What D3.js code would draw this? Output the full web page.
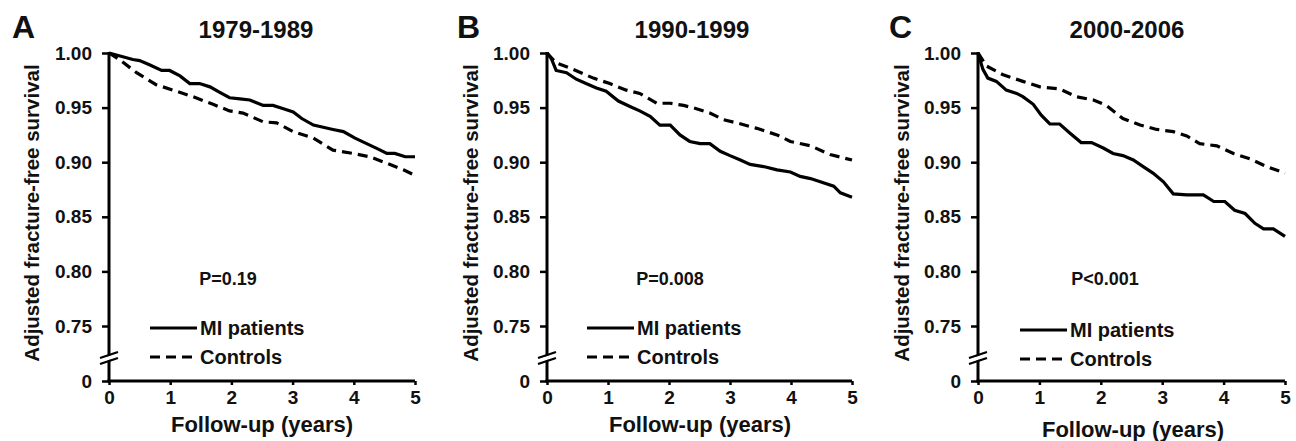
<!DOCTYPE html>
<html>
<head>
<meta charset="utf-8">
<script src="https://cdn.jsdelivr.net/npm/d3@7"></script>
<style>
  html, body { margin: 0; padding: 0; background: #fff; }
  svg { display: block; }
  text { font-family: "Liberation Sans", Arial, sans-serif; font-weight: bold; fill: #111; }
</style>
</head>
<body>
<svg id="chart" width="1296" height="441"></svg>
<script>
// ---------- data ----------
const panelLetters = ["A", "B", "C"];
const panelTitles = ["1979-1989", "1990-1999", "2000-2006"];
const pValues = ["P=0.19", "P=0.008", "P<0.001"];
const seriesNames = ["MI patients", "Controls"];
const xTicks = [0, 1, 2, 3, 4, 5];
const yTicks = [0, 0.75, 0.80, 0.85, 0.90, 0.95, 1.00];
const xLabel = "Follow-up (years)";
const yLabel = "Adjusted fracture-free survival";

// Panel A (1979-1989)
const aMiT = [0, 0.39, 0.5, 0.67, 0.86, 0.99, 1.16, 1.32, 1.48, 1.65, 1.81, 1.97, 2.14, 2.3, 2.52, 2.68, 2.85, 3.01, 3.15, 3.34, 3.5, 3.66, 3.83, 4.02, 4.21, 4.4, 4.54, 4.67, 4.84, 5];
const aMiS = [1.0, 0.994, 0.993, 0.989, 0.984, 0.984, 0.979, 0.972, 0.972, 0.969, 0.964, 0.959, 0.958, 0.957, 0.952, 0.952, 0.949, 0.946, 0.940, 0.934, 0.932, 0.930, 0.928, 0.922, 0.917, 0.912, 0.908, 0.908, 0.905, 0.905];
const aCtT = [0, 0.17, 0.45, 0.77, 1.1, 1.37, 1.7, 1.97, 2.19, 2.52, 2.74, 3.01, 3.34, 3.66, 3.99, 4.26, 4.54, 4.81, 5];
const aCtS = [1.0, 0.994, 0.982, 0.971, 0.965, 0.960, 0.953, 0.947, 0.945, 0.937, 0.936, 0.928, 0.922, 0.911, 0.908, 0.905, 0.899, 0.893, 0.888];

// Panel B (1990-1999)
const bMiT = [0, 0.07, 0.15, 0.32, 0.48, 0.64, 0.81, 0.97, 1.17, 1.36, 1.52, 1.69, 1.85, 2.02, 2.18, 2.34, 2.51, 2.67, 2.84, 3.0, 3.17, 3.33, 3.55, 3.77, 3.99, 4.15, 4.32, 4.48, 4.7, 4.81, 5];
const bMiS = [1.0, 0.995, 0.984, 0.982, 0.976, 0.972, 0.968, 0.965, 0.956, 0.951, 0.947, 0.942, 0.934, 0.934, 0.925, 0.919, 0.917, 0.917, 0.910, 0.906, 0.902, 0.898, 0.896, 0.893, 0.891, 0.887, 0.885, 0.882, 0.878, 0.872, 0.868];
const bCtT = [0, 0.15, 0.43, 0.76, 1.03, 1.3, 1.52, 1.8, 2.02, 2.24, 2.45, 2.67, 2.89, 3.11, 3.44, 3.77, 3.99, 4.32, 4.64, 5];
const bCtS = [1.0, 0.991, 0.985, 0.977, 0.972, 0.966, 0.963, 0.954, 0.954, 0.952, 0.949, 0.945, 0.939, 0.936, 0.931, 0.925, 0.919, 0.915, 0.907, 0.902];

// Panel C (2000-2006)
const cMiT = [0, 0.08, 0.16, 0.3, 0.46, 0.63, 0.73, 0.9, 1.03, 1.17, 1.33, 1.49, 1.68, 1.85, 2.04, 2.2, 2.36, 2.53, 2.69, 2.85, 3.02, 3.18, 3.4, 3.67, 3.84, 4.02, 4.18, 4.35, 4.51, 4.65, 4.81, 5];
const cMiS = [1.0, 0.985, 0.977, 0.974, 0.966, 0.963, 0.960, 0.953, 0.943, 0.935, 0.935, 0.927, 0.918, 0.918, 0.913, 0.908, 0.906, 0.902, 0.896, 0.890, 0.882, 0.871, 0.870, 0.870, 0.864, 0.864, 0.856, 0.853, 0.844, 0.839, 0.839, 0.832];
const cCtT = [0, 0.14, 0.41, 0.73, 1.01, 1.33, 1.6, 1.88, 2.09, 2.36, 2.64, 2.91, 3.18, 3.4, 3.61, 3.89, 4.16, 4.43, 4.7, 5];
const cCtS = [1.0, 0.988, 0.980, 0.974, 0.969, 0.967, 0.960, 0.957, 0.952, 0.940, 0.934, 0.930, 0.928, 0.924, 0.917, 0.915, 0.908, 0.903, 0.896, 0.890];

const miT = [aMiT, bMiT, cMiT], miS = [aMiS, bMiS, cMiS];
const ctT = [aCtT, bCtT, cCtT], ctS = [aCtS, bCtS, cCtS];

// ---------- layout ----------
const layout = [
  { ax: 109, x5: 415, letterX: 12, titleX: 256, yLabX: 39, pX: 228, legX: 150, legY: 328, xLabX: 262, xLabY: 432 },
  { ax: 547, x5: 852, letterX: 457, titleX: 692, yLabX: 478, pX: 670, legX: 587, legY: 328, xLabX: 700, xLabY: 432 },
  { ax: 978, x5: 1285, letterX: 889, titleX: 1127, yLabX: 909, pX: 1105, legX: 1020, legY: 330, xLabX: 1133, xLabY: 437 }
];
const yTop = 53, yBot = 381, y075 = 326;

const svg = d3.select("#chart");
const tickFont = "19px";

layout.forEach((L, i) => {
  const g = svg.append("g");
  const x = d3.scaleLinear().domain([0, 5]).range([L.ax, L.x5]);
  const y = d3.scaleLinear().domain([0, 0.75, 1]).range([yBot, y075, yTop]);

  // curves
  const line = d3.line().x(d => x(d[0])).y(d => y(d[1]));
  const mi = miT[i].map((t, k) => [t, miS[i][k]]);
  const ct = ctT[i].map((t, k) => [t, ctS[i][k]]);
  g.append("path").attr("d", line(ct)).attr("fill", "none").attr("stroke", "#000")
    .attr("stroke-width", 3.2).attr("stroke-dasharray", "10,6");
  g.append("path").attr("d", line(mi)).attr("fill", "none").attr("stroke", "#000")
    .attr("stroke-width", 3.2);

  // y axis ticks/labels
  const yAxis = d3.axisLeft(y).tickValues(yTicks).tickSize(7).tickPadding(10)
    .tickFormat(d => d === 0 ? "0" : d3.format(".2f")(d));
  const ya = g.append("g").attr("transform", `translate(${L.ax},0)`).call(yAxis);
  ya.select(".domain").remove();
  ya.selectAll("line").attr("stroke", "#000").attr("stroke-width", 2.5);
  ya.selectAll("text").style("font-size", tickFont).style("font-family", "'Liberation Sans', Arial, sans-serif").style("font-weight", "bold").attr("fill", "#111");

  // x axis
  const xAxis = d3.axisBottom(x).tickValues(xTicks).tickSize(4).tickPadding(6).tickFormat(d3.format("d"));
  const xa = g.append("g").attr("transform", `translate(0,${yBot})`).call(xAxis);
  xa.select(".domain").remove();
  xa.selectAll("line").attr("stroke", "#000").attr("stroke-width", 2.5);
  xa.selectAll("text").style("font-size", tickFont).style("font-family", "'Liberation Sans', Arial, sans-serif").style("font-weight", "bold").attr("fill", "#111");

  // axis lines
  g.append("line").attr("x1", L.ax).attr("x2", L.ax).attr("y1", y(1) - 1).attr("y2", yBot + 1.5)
    .attr("stroke", "#000").attr("stroke-width", 3);
  g.append("line").attr("x1", L.ax - 1.5).attr("x2", x(5)).attr("y1", yBot).attr("y2", yBot)
    .attr("stroke", "#000").attr("stroke-width", 3);

  // axis break
  const bY = 357;
  g.append("polygon")
    .attr("points", `${L.ax - 9},${bY + 2} ${L.ax + 9},${bY - 4} ${L.ax + 9},${bY} ${L.ax - 9},${bY + 6}`)
    .attr("fill", "#fff");
  g.append("line").attr("x1", L.ax - 9).attr("y1", bY + 1).attr("x2", L.ax + 9).attr("y2", bY - 5)
    .attr("stroke", "#000").attr("stroke-width", 2.2);
  g.append("line").attr("x1", L.ax - 9).attr("y1", bY + 7).attr("x2", L.ax + 9).attr("y2", bY + 1)
    .attr("stroke", "#000").attr("stroke-width", 2.2);

  // panel letter and title
  g.append("text").attr("x", L.letterX).attr("y", 38).style("font-size", "32px").text(panelLetters[i]);
  g.append("text").attr("x", L.titleX).attr("y", 38).attr("text-anchor", "middle")
    .style("font-size", "24px").text(panelTitles[i]);

  // axis labels
  g.append("text").attr("transform", `translate(${L.yLabX},213) rotate(-90)`)
    .attr("text-anchor", "middle").style("font-size", "20.5px").text(yLabel);
  g.append("text").attr("x", L.xLabX).attr("y", L.xLabY).attr("text-anchor", "middle")
    .style("font-size", "22px").text(xLabel);

  // P value
  g.append("text").attr("x", L.pX).attr("y", 285).attr("text-anchor", "middle")
    .style("font-size", "18px").text(pValues[i]);

  // legend
  const dashes = [null, "10,6"];
  seriesNames.forEach((name, k) => {
    const ly = L.legY + k * 29;
    g.append("line").attr("x1", L.legX).attr("x2", L.legX + 47).attr("y1", ly).attr("y2", ly)
      .attr("stroke", "#000").attr("stroke-width", 3.2)
      .attr("stroke-dasharray", dashes[k]);
    g.append("text").attr("x", L.legX + 50).attr("y", ly + 7)
      .style("font-size", "20px").text(name);
  });
});
</script>
</body>
</html>
